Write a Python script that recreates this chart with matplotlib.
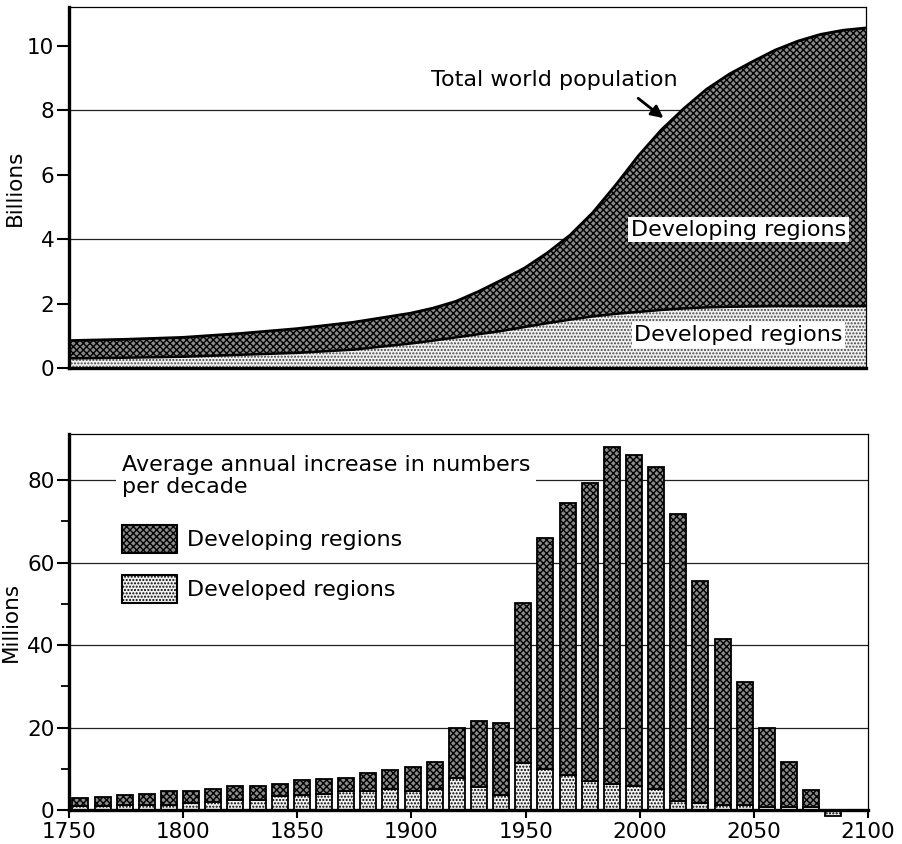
import numpy as np
import matplotlib.pyplot as plt
from matplotlib.patches import Patch

plt.rcParams.update({'font.size': 16, 'hatch.linewidth': 1.0})

# world population, billions
years = [1750, 1775, 1800, 1825, 1850, 1875, 1900, 1910, 1920, 1930, 1940, 1950, 1960, 1970,
         1980, 1990, 2000, 2010, 2020, 2030, 2040, 2050, 2060, 2070, 2080, 2090, 2100]
pop_total = [0.85, 0.89, 0.95, 1.07, 1.22, 1.42, 1.70, 1.86, 2.07, 2.38, 2.73, 3.1, 3.57, 4.12,
             4.82, 5.67, 6.58, 7.38, 8.05, 8.65, 9.12, 9.5, 9.86, 10.14, 10.35, 10.48, 10.55]
pop_developed = [0.3, 0.32, 0.35, 0.41, 0.47, 0.57, 0.76, 0.85, 0.95, 1.05, 1.15, 1.27, 1.39, 1.5,
                 1.6, 1.68, 1.74, 1.8, 1.85, 1.88, 1.9, 1.91, 1.92, 1.92, 1.92, 1.92, 1.92]

# average annual increase per decade, millions
decades = np.arange(1750, 2100, 10)
inc_total = [2.8, 3.2, 3.7, 4.0, 4.5, 4.5, 5.2, 5.7, 5.9, 6.4, 7.2, 7.5, 7.8, 8.9, 9.6,
             10.5, 11.6, 19.8, 21.7, 21.0, 50.3, 66.0, 74.5, 79.4, 88.1, 86.2, 83.2, 71.8,
             55.6, 41.4, 31.1, 20.0, 11.7, 4.8, -1.5]
inc_developed = [1.0, 1.0, 1.1, 1.1, 1.2, 1.6, 1.9, 2.4, 2.4, 3.4, 3.6, 3.9, 4.7, 4.7, 5.2,
                 4.7, 5.0, 7.8, 5.7, 3.6, 11.5, 9.9, 8.5, 7.0, 6.2, 5.9, 5.2, 2.2,
                 1.6, 1.2, 1.2, 0.8, 0.8, 0.8, -1.5]

dark = dict(facecolor='#8a8a8a', hatch='xxxxx', edgecolor='black')
light = dict(facecolor='#f2f2f2', hatch='.....', edgecolor='#444444')

fig = plt.figure(figsize=(9.03, 8.44), dpi=100)

# ---- top panel
ax1 = fig.add_axes([69/903, 1-368/844, 797/903, 361/844])
for y in (4, 8):
    ax1.axhline(y, color='#222222', lw=0.9, zorder=0)
ax1.fill_between(years, 0, pop_developed, lw=0, **light)
ax1.fill_between(years, pop_developed, pop_total, lw=0, **dark)
ax1.plot(years, pop_total, color='black', lw=2)
ax1.plot(years, pop_developed, color='black', lw=1.8)
ax1.set_xlim(1750, 2100)
ax1.set_ylim(0, 11.2)
ax1.set_yticks([0, 2, 4, 6, 8, 10])
ax1.set_xticks([])
ax1.set_ylabel('Billions', fontsize=15.5)
ax1.yaxis.set_label_coords(-0.055, 0.5)
ax1.text(1963, 8.94, 'Total world population', ha='center', va='center')
ax1.annotate('', xy=(2012, 7.7), xytext=(1999, 8.42),
             arrowprops=dict(arrowstyle='-|>', lw=2, color='black', mutation_scale=18))
ax1.text(2044, 4.29, 'Developing regions', ha='center', va='center',
         bbox=dict(facecolor='white', edgecolor='none', pad=2))
ax1.text(2044, 1.02, 'Developed regions', ha='center', va='center',
         bbox=dict(facecolor='white', edgecolor='none', pad=2))

# ---- bottom panel
ax2 = fig.add_axes([69/903, 1-810/844, 799/903, 376/844])
ax2.set_axisbelow(True)
bar_x = 1755 + (decades - 1750) * 0.97  # bars in the original sit slightly compressed
dev = np.array(inc_developed)
developing = np.array(inc_total) - dev
developing[developing < 0] = 0
ax2.bar(bar_x, dev, width=7, lw=1.3, clip_on=False, **light)
ax2.bar(bar_x, developing, bottom=np.maximum(dev, 0), width=7, lw=1.3, clip_on=False, **dark)
for b in ax2.patches:
    b.set_edgecolor('black')
ax2.set_xlim(1750, 2100)
ax2.set_ylim(0, 91.2)
ax2.set_xticks(range(1750, 2101, 50))
ax2.set_yticks([0, 20, 40, 60, 80])
ax2.set_yticks([10, 30, 50, 70], minor=True)
ax2.yaxis.grid(True, color='#222222', lw=0.9)
ax2.set_ylabel('Millions', fontsize=15.5)
ax2.yaxis.set_label_coords(-0.06, 0.5)
ax2.text(1773.2, 81, 'Average annual increase in numbers\nper decade', ha='left', va='center',
         linespacing=1.1, bbox=dict(facecolor='white', edgecolor='none', pad=4))
handles = [Patch(lw=1.5, **dark), Patch(lw=1.5, **light)]
for h in handles:
    h.set_edgecolor('black')
ax2.legend(handles, ['Developing regions', 'Developed regions'], loc='upper left',
           bbox_to_anchor=(0.066, 0.758), frameon=False, borderpad=0, borderaxespad=0,
           handlelength=2.5, handleheight=1.55, handletextpad=0.45, labelspacing=1.0)

for ax in (ax1, ax2):
    ax.spines['left'].set_linewidth(2.4)
    ax.spines['bottom'].set_linewidth(2.4)
    ax.spines['top'].set_linewidth(0.9)
    ax.spines['right'].set_linewidth(0.9)
    ax.tick_params(axis='y', length=9, width=1.5, pad=1.5, labelsize=15.5)
ax2.tick_params(axis='y', which='minor', length=6, width=1.3)
ax2.tick_params(axis='x', length=6, width=1.5, pad=3, labelsize=15.5)

fig.savefig('out.png', dpi=100)
